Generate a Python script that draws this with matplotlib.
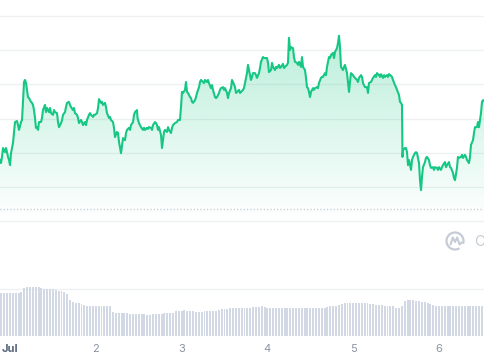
import numpy as np
import matplotlib
matplotlib.use("Agg")
import matplotlib.pyplot as plt
from matplotlib.patches import Arc
from matplotlib.lines import Line2D

plt.rcParams['font.family'] = ['Inter', 'DejaVu Sans']

# ---------------- data ----------------
# time in hours since Jul 1 00:00
hours = [
    -2.80, -2.52, -2.24, -1.96, -1.68, -1.40, -1.12, -0.84, -0.56, -0.28,
    0.00, 0.28, 0.84, 1.12, 1.40, 1.96, 2.24, 2.52, 3.08, 3.36,
    3.92, 4.20, 4.48, 4.76, 5.03, 5.31, 5.87, 6.15, 6.43, 6.71,
    6.99, 7.27, 7.55, 7.83, 8.11, 8.67, 8.95, 9.23, 9.79, 10.07,
    10.35, 10.91, 11.19, 11.47, 12.03, 12.31, 12.59, 13.15, 13.43, 13.71,
    14.27, 14.55, 14.83, 15.38, 15.66, 15.94, 16.50, 16.78, 17.06, 17.62,
    17.90, 18.18, 18.74, 19.02, 19.30, 19.86, 20.14, 20.42, 20.98, 21.26,
    21.54, 22.10, 22.38, 22.66, 23.22, 23.50, 23.78, 24.34, 24.62, 24.90,
    25.45, 25.73, 26.01, 26.57, 26.85, 27.13, 27.69, 27.97, 28.25, 28.81,
    29.09, 29.37, 29.93, 30.21, 30.49, 31.05,
    31.61, 32.17, 32.45, 32.73, 33.29, 33.57, 33.85, 34.41, 34.69, 34.97,
    35.52, 35.66, 36.08, 36.36, 36.64, 37.20, 37.48, 37.76, 38.32, 38.60,
    38.88, 39.44, 39.72, 40.00, 40.56, 40.84, 41.12, 41.40, 41.68, 42.24,
    42.52, 42.80, 43.08, 43.36, 43.92, 44.20, 44.48, 45.03, 45.31, 45.59,
    46.15, 46.71, 46.99, 47.55, 47.83, 48.11, 48.39, 48.95, 49.23, 49.51,
    49.79, 50.35, 50.63, 50.91, 51.19, 51.75, 52.03, 52.31, 52.87, 53.15,
    53.43, 53.99, 54.27, 54.55, 55.10, 55.38, 55.66, 56.22, 56.50, 56.78,
    57.34, 57.62, 57.90, 58.46, 58.74, 59.02, 59.58, 59.86, 60.14, 60.70,
    60.98, 61.26, 61.82, 62.10, 62.38, 62.94, 63.22, 63.50, 64.06, 64.34,
    64.62, 65.17, 65.45,
    65.73, 66.29, 66.57, 66.85, 67.41, 67.69, 67.97, 68.53, 68.81, 69.09,
    69.65, 69.93, 70.21, 70.77, 71.05, 71.33, 71.89, 72.17, 72.45, 73.01,
    73.29, 73.57, 74.13, 74.41, 74.69, 75.24, 75.52, 75.80, 76.36, 76.64,
    76.92, 77.48, 77.76, 78.04, 78.32, 78.60, 79.16, 79.44, 79.72, 80.28,
    80.56, 80.84, 81.40, 81.68, 81.96, 82.52, 82.80, 83.08, 83.36, 83.64,
    83.92, 84.20, 84.76, 85.03, 85.31, 85.87, 86.15, 86.43, 86.99, 87.27,
    87.55, 88.11, 88.39, 88.67, 89.23, 89.51, 89.79, 90.35, 90.63, 90.91,
    91.47, 91.75, 92.03, 92.31, 92.59, 93.15, 93.43, 93.71, 94.27, 94.55,
    94.83, 95.10, 95.38, 95.94, 96.22, 96.50, 97.06, 97.34, 97.62, 98.18,
    98.46, 98.74, 99.30,
    99.86, 100.14, 100.42, 100.98, 101.26, 101.54, 102.10, 102.38, 102.66, 103.22,
    103.50, 103.78, 104.34, 104.62, 104.90, 105.45, 105.73, 106.01, 106.57, 106.85,
    107.13, 107.69, 107.97, 108.25, 108.81, 109.09, 109.37, 109.65, 109.79, 109.93,
    110.49, 110.77, 111.05, 111.33, 111.61, 112.17, 112.45, 112.73, 113.29, 113.57,
    113.85, 114.41, 114.69, 114.97, 115.24, 115.52, 116.08, 116.36, 116.64, 117.20,
    117.48, 117.76, 118.32, 118.60, 118.88, 119.44, 119.72, 120.00, 120.56, 120.84,
    121.12, 121.68, 121.96, 122.24, 122.80, 123.08, 123.36, 123.92, 124.20, 124.48,
    125.03, 125.31, 125.59, 126.15, 126.43, 126.71, 127.27, 127.55, 127.83, 128.39,
    128.67, 128.95, 129.51, 129.79, 130.07, 130.63, 130.91, 131.19, 131.75, 132.03,
    132.31, 132.87,
]

price = [
    60.79, 60.70, 60.88, 61.14, 61.08, 61.02, 61.14, 61.02, 60.88, 60.79,
    60.64, 60.99, 61.29, 61.61, 61.90, 61.93, 61.81, 61.67, 61.90, 61.96,
    63.07, 63.13, 63.04, 62.84, 62.63, 62.60, 62.49, 62.46, 62.40, 62.25,
    62.02, 61.73, 61.75, 61.67, 61.90, 61.90, 62.02, 62.25, 62.40, 62.19,
    62.31, 62.19, 62.31, 62.16, 62.11, 62.25, 62.19, 62.16, 61.90, 61.75,
    61.87, 61.96, 62.11, 62.19, 62.34, 62.46, 62.49, 62.40, 62.34, 62.25,
    62.31, 62.16, 62.11, 62.02, 61.87, 61.96, 61.90, 61.81, 61.90, 61.81,
    61.96, 62.11, 62.16, 62.11, 62.05, 62.11, 62.11, 62.16, 62.31, 62.57,
    62.46, 62.49, 62.40, 62.46, 62.34, 62.16, 62.02, 62.05, 61.96, 61.90,
    61.73, 61.46, 61.61, 61.58, 61.32, 60.99,
    61.43, 61.37, 61.58, 61.67, 61.73, 61.67, 61.81, 61.90, 62.11, 62.19,
    62.25, 62.02, 61.87, 61.81, 61.75, 61.67, 61.73, 61.67, 61.73, 61.70,
    61.75, 61.73, 61.67, 61.81, 61.90, 61.87, 61.81, 61.67, 61.75, 61.52,
    61.14, 61.37, 61.61, 61.67, 61.61, 61.75, 61.67, 61.58, 61.73, 61.81,
    61.87, 61.90, 61.96, 61.96, 62.34, 62.78, 62.75, 62.84, 63.07, 62.78,
    62.75, 62.63, 62.60, 62.49, 62.46, 62.54, 62.63, 62.75, 62.92, 63.07,
    63.13, 63.07, 63.04, 63.13, 63.07, 63.13, 63.04, 62.89, 62.98, 62.84,
    62.63, 62.60, 62.63, 62.75, 62.84, 62.89, 62.92, 62.84, 62.89, 62.75,
    62.60, 62.75, 62.89, 63.13, 63.07, 62.92, 62.75, 62.78, 62.84, 62.75,
    62.78, 62.84, 62.89,
    63.04, 63.33, 63.57, 63.42, 63.13, 63.22, 63.33, 63.33, 63.27, 63.19,
    63.33, 63.48, 63.66, 63.80, 63.77, 63.77, 63.77, 63.63, 63.36, 63.42,
    63.63, 63.51, 63.42, 63.51, 63.48, 63.57, 63.48, 63.51, 63.60, 63.48,
    63.51, 63.57, 63.63, 64.36, 64.01, 64.09, 64.06, 63.80, 63.66, 63.63,
    63.57, 63.66, 63.51, 63.80, 63.51, 63.42, 63.19, 62.92, 62.89, 62.78,
    62.63, 62.78, 62.89, 62.84, 62.89, 62.92, 62.89, 63.04, 63.19, 63.22,
    63.22, 63.33, 63.27, 63.51, 63.80, 63.77, 63.86, 63.92, 63.77, 63.95,
    64.06, 64.21, 64.42, 64.09, 63.51, 63.42, 63.51, 63.57, 63.33, 63.04,
    62.78, 63.07, 63.33, 63.27, 63.22, 63.19, 63.13, 63.07, 63.19, 63.27,
    63.22, 63.04, 62.92,
    62.92, 62.75, 63.04, 63.07, 63.13, 63.19, 63.27, 63.22, 63.33, 63.27,
    63.22, 63.30, 63.19, 63.27, 63.22, 63.27, 63.22, 63.30, 63.25, 63.22,
    63.13, 62.98, 62.92, 62.84, 62.69, 62.49, 62.46, 62.40, 60.88, 61.08,
    61.14, 61.14, 61.02, 60.64, 60.79, 60.50, 60.79, 60.88, 60.99, 61.02,
    60.99, 60.70, 60.20, 59.91, 60.29, 60.58, 60.73, 60.85, 60.88, 60.79,
    60.64, 60.56, 60.58, 60.50, 60.58, 60.56, 60.50, 60.58, 60.50, 60.58,
    60.64, 60.73, 60.58, 60.64, 60.73, 60.58, 60.56, 60.41, 60.26, 60.20,
    60.56, 60.88, 60.85, 60.88, 60.94, 60.85, 60.94, 60.88, 60.79, 60.70,
    60.88, 61.23, 61.37, 61.58, 61.75, 61.75, 61.90, 61.75, 62.16, 62.49,
    62.54, 62.49,
]

open_price = 59.36                       # dotted reference line
price_grid = [59, 60, 61, 62, 63, 64, 65]

vol_start_hour = -2.4
vol_interval_hours = 0.8
volume = [
    45.7, 45.7, 45.7, 45.7, 45.7, 45.7, 45.7, 46.8, 51.1, 52.1,
    52.1, 52.1, 51.6, 51.6, 51.1, 50.5, 50.5, 50.0, 50.0, 48.9,
    48.4, 47.9, 47.3, 44.7, 38.3, 36.2, 35.6, 35.1, 34.0, 33.0,
    31.9, 31.4, 31.4, 31.4, 31.4, 31.4, 31.4, 31.4, 31.9, 25.5,
    25.0, 25.0, 24.5, 24.5, 24.5, 23.9, 23.4, 23.4, 22.9, 22.9,
    22.9, 22.3, 22.3, 22.9, 22.9, 23.4, 23.9, 24.5, 24.5, 25.0,
    25.0, 26.1, 26.6, 27.1, 27.7, 26.6, 26.1, 26.1, 25.5, 25.5,
    25.5, 26.1, 26.1, 26.1, 26.6, 27.1, 27.7, 28.2, 28.2, 28.7,
    29.3, 29.8, 29.8, 30.3, 30.3, 30.3, 30.3, 30.3, 30.9, 30.9,
    30.9, 31.4, 30.9, 30.3, 29.8, 29.8, 29.3, 29.8, 30.3, 30.3,
    30.3, 30.3, 30.3, 30.3, 30.3, 30.3, 30.3, 30.3, 30.3, 30.3,
    30.3, 30.3, 29.8, 30.3, 30.9, 31.4, 31.9, 32.4, 33.0, 34.0,
    34.6, 35.1, 35.1, 34.6, 34.6, 34.6, 34.6, 34.6, 34.6, 34.0,
    34.0, 33.5, 33.0, 33.0, 32.4, 31.9, 31.9, 31.4, 30.3, 29.8,
    31.9, 37.2, 37.8, 37.8, 37.8, 37.2, 37.2, 36.7, 36.2, 35.1,
    34.0, 33.0, 32.4, 32.4, 32.4, 32.4, 32.4, 32.4, 32.4, 32.4,
    32.4, 32.4, 32.4, 32.4, 32.4, 32.4, 32.4, 32.4, 32.4, 32.4,
]
volume_grid = [50]

day_ticks = [0, 24, 48, 72, 96, 120]
day_labels = ["Jul", "2", "3", "4", "5", "6"]

# ---------------- styling ----------------
GREEN = "#16c784"
GRID = "#eef0f3"
BAR = "#d3d9e4"
W, H = 485, 360
x_range = (-2.80, 132.87)

fig = plt.figure(figsize=(W / 100, H / 100), dpi=100)
fig.patch.set_facecolor("white")

# price axes spans the full figure
ax = fig.add_axes([0, 0, 1, 1])
ax.set_facecolor("none")
for lvl in price_grid:
    ax.axhline(lvl, color=GRID, lw=1.0, zorder=0)
ax.axhline(open_price, color="#b9c0cb", lw=1.0, ls=(0, (0.7, 1.7)), zorder=1)

hrs = np.array(hours)
pr = np.array(price)
fill = ax.fill_between(hrs, pr, price_grid[0], color="none", lw=0)
grad_n = 256
rgba = np.zeros((grad_n, 1, 4))
rgba[..., 0] = 22 / 255
rgba[..., 1] = 199 / 255
rgba[..., 2] = 132 / 255
rgba[:, 0, 3] = np.linspace(0.30, 0.0, grad_n)
im = ax.imshow(rgba, extent=[x_range[0], x_range[1], price_grid[0], 64.5],
               aspect="auto", origin="upper", zorder=2, interpolation="bilinear")
im.set_clip_path(fill.get_paths()[0], transform=ax.transData)

ax.plot(hrs, pr, color=GREEN, lw=1.5, solid_joinstyle="round", zorder=3)
ax.set_xlim(*x_range)
ax.set_ylim(54.942, 65.468)
ax.axis("off")

# volume axes
axv = fig.add_axes([0, 24 / H, 1, 114 / H])
axv.set_facecolor("none")
for lvl in volume_grid:
    axv.axhline(lvl, color=GRID, lw=1.0, zorder=0)
vol_t = vol_start_hour + vol_interval_hours * np.arange(len(volume))
axv.bar(vol_t, volume, width=vol_interval_hours * 0.68, color=BAR, lw=0, zorder=1)
axv.set_xlim(*x_range)
axv.set_ylim(0, 121.28)
for s in axv.spines.values():
    s.set_visible(False)
axv.set_yticks([])
axv.set_xticks(day_ticks)
axv.set_xticklabels(day_labels)
axv.tick_params(axis="x", length=0, pad=5.5, labelsize=8)
for i, lab in enumerate(axv.get_xticklabels()):
    if i == 0:
        lab.set_color("#58667e")
        lab.set_fontweight("bold")
    else:
        lab.set_color("#8c95a5")

# watermark logo (CoinMarketCap)
wm = "#c6ccd5"
cx, cy, r = 455 / W, 1 - 241 / H, 8.5
fig.add_artist(Arc((cx, cy), 2 * r / W, 2 * r / H, theta1=-25, theta2=295,
                   transform=fig.transFigure, color=wm, lw=1.6))
zx = [cx + d / W for d in (-4.5, -2.2, 0.0, 2.2, 4.5, 6.5)]
zy = [cy + d / H for d in (-3.5, 3.5, -1.0, 3.5, -3.5, -1.5)]
fig.add_artist(Line2D(zx, zy, transform=fig.transFigure, color=wm, lw=1.5,
                      solid_joinstyle="round", solid_capstyle="round"))
fig.text(474 / W, 1 - 242 / H, "CoinMarketCap", color=wm, fontsize=10.5,
         va="center", ha="left")

fig.savefig("out.png", dpi=100, facecolor="white")
